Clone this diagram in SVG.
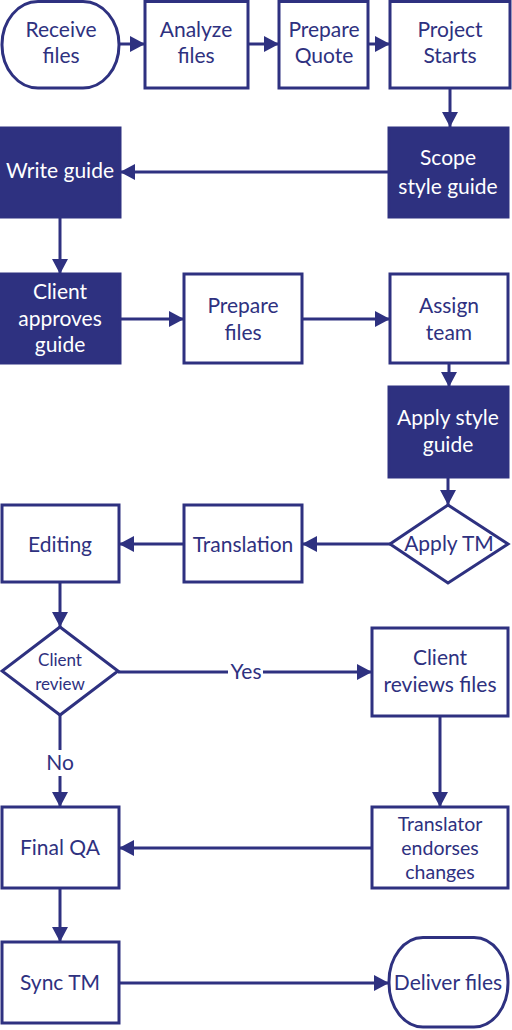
<svg xmlns="http://www.w3.org/2000/svg" width="512" height="1030" viewBox="0 0 512 1030">
<defs>
<style>
.n{fill:#fff;stroke:#2E3180;stroke-width:3}
.f{fill:#2E3180;stroke:#2E3180;stroke-width:3}
.t{font-family:Lato,"Noto Sans",sans-serif;font-size:21px;fill:#2E3180;text-anchor:middle}
.w{fill:#fff}
.s{font-size:17px}
.m{font-size:19.5px}
.c{fill:none;stroke:#2E3180;stroke-width:3}
</style>
<marker id="a" markerUnits="userSpaceOnUse" markerWidth="16" markerHeight="16" refX="15" refY="8" orient="auto">
<path d="M0,0 L15,8 L0,16 z" fill="#2E3180"/>
</marker>
</defs>
<rect width="512" height="1030" fill="#fff"/>
<g id="connectors">
<line class="c" x1="119" y1="44" x2="145" y2="44" marker-end="url(#a)"/>
<line class="c" x1="248" y1="44" x2="279" y2="44" marker-end="url(#a)"/>
<line class="c" x1="368" y1="44" x2="390" y2="44" marker-end="url(#a)"/>
<line class="c" x1="450" y1="88" x2="450" y2="127" marker-end="url(#a)"/>
<line class="c" x1="389" y1="172" x2="120" y2="172" marker-end="url(#a)"/>
<line class="c" x1="60" y1="217" x2="60" y2="274" marker-end="url(#a)"/>
<line class="c" x1="120" y1="319" x2="184" y2="319" marker-end="url(#a)"/>
<line class="c" x1="302" y1="319" x2="390" y2="319" marker-end="url(#a)"/>
<line class="c" x1="449" y1="363" x2="449" y2="387" marker-end="url(#a)"/>
<line class="c" x1="448" y1="477" x2="448" y2="505" marker-end="url(#a)"/>
<line class="c" x1="390" y1="544" x2="302" y2="544" marker-end="url(#a)"/>
<line class="c" x1="184" y1="544" x2="119" y2="544" marker-end="url(#a)"/>
<line class="c" x1="60" y1="582" x2="60" y2="627" marker-end="url(#a)"/>
<line class="c" x1="118" y1="672" x2="372" y2="672" marker-end="url(#a)"/>
<line class="c" x1="60" y1="715" x2="60" y2="807" marker-end="url(#a)"/>
<line class="c" x1="440" y1="716" x2="440" y2="807" marker-end="url(#a)"/>
<line class="c" x1="372" y1="848" x2="119" y2="848" marker-end="url(#a)"/>
<line class="c" x1="60" y1="888" x2="60" y2="942" marker-end="url(#a)"/>
<line class="c" x1="119" y1="983" x2="389" y2="983" marker-end="url(#a)"/>
<rect x="228" y="660" width="35" height="24" fill="#fff"/>
<text class="t" x="246" y="679">Yes</text>
<rect x="43" y="750" width="34" height="26" fill="#fff"/>
<text class="t" x="60" y="770">No</text>
</g>
<g id="receive"><rect class="n" x="2" y="1.5" width="117" height="86.5" rx="36" ry="43"/><text class="t" x="61" y="37">Receive</text><text class="t" x="61" y="63">files</text></g>
<g id="analyze"><rect class="n" x="145" y="1.5" width="103" height="86.5"/><text class="t" x="196" y="37">Analyze</text><text class="t" x="196" y="63">files</text></g>
<g id="quote"><rect class="n" x="279" y="1.5" width="89" height="86.5"/><text class="t" x="324" y="37">Prepare</text><text class="t" x="324" y="63">Quote</text></g>
<g id="starts"><rect class="n" x="390" y="1.5" width="120" height="86.5"/><text class="t" x="450" y="37">Project</text><text class="t" x="450" y="63">Starts</text></g>
<g id="scope"><rect class="f" x="389" y="128" width="119" height="89"/><text class="t w" x="448" y="165">Scope</text><text class="t w" x="448" y="194">style guide</text></g>
<g id="write"><rect class="f" x="1.5" y="128" width="118.5" height="89"/><text class="t w" x="60" y="178">Write guide</text></g>
<g id="approves"><rect class="f" x="1.5" y="274" width="118.5" height="89"/><text class="t w" x="60" y="299">Client</text><text class="t w" x="60" y="326">approves</text><text class="t w" x="60" y="352">guide</text></g>
<g id="prepfiles"><rect class="n" x="184" y="274" width="118" height="89"/><text class="t" x="243" y="313">Prepare</text><text class="t" x="243" y="340">files</text></g>
<g id="assign"><rect class="n" x="390" y="274" width="118" height="89"/><text class="t" x="449" y="313">Assign</text><text class="t" x="449" y="340">team</text></g>
<g id="applystyle"><rect class="f" x="389" y="387" width="119" height="90"/><text class="t w" x="448" y="425">Apply style</text><text class="t w" x="448" y="452">guide</text></g>
<g id="applytm"><polygon class="n" points="448,505 508,544 448,583 390,544"/><text class="t" x="449" y="551">Apply TM</text></g>
<g id="translation"><rect class="n" x="184" y="505" width="118" height="77"/><text class="t" x="243" y="552">Translation</text></g>
<g id="editing"><rect class="n" x="2" y="505" width="117" height="77"/><text class="t" x="60" y="552">Editing</text></g>
<g id="review"><polygon class="n" points="60,627 118,671 60,715 2,671"/><text class="t s" x="60" y="666">Client</text><text class="t s" x="60" y="690">review</text></g>
<g id="clientreviews"><rect class="n" x="372" y="628" width="136" height="88"/><text class="t" x="440" y="665">Client</text><text class="t" x="440" y="692">reviews files</text></g>
<g id="endorses"><rect class="n" x="372" y="807" width="136" height="81"/><text class="t m" x="440" y="830.5">Translator</text><text class="t m" x="440" y="854.5">endorses</text><text class="t m" x="440" y="878.5">changes</text></g>
<g id="finalqa"><rect class="n" x="2" y="807" width="117" height="81"/><text class="t" x="60" y="855">Final QA</text></g>
<g id="sync"><rect class="n" x="2" y="942" width="117" height="81"/><text class="t" x="60" y="990">Sync TM</text></g>
<g id="deliver"><rect class="n" x="389" y="937.5" width="119" height="89.5" rx="34" ry="44"/><text class="t" x="448" y="990">Deliver files</text></g>
</svg>
